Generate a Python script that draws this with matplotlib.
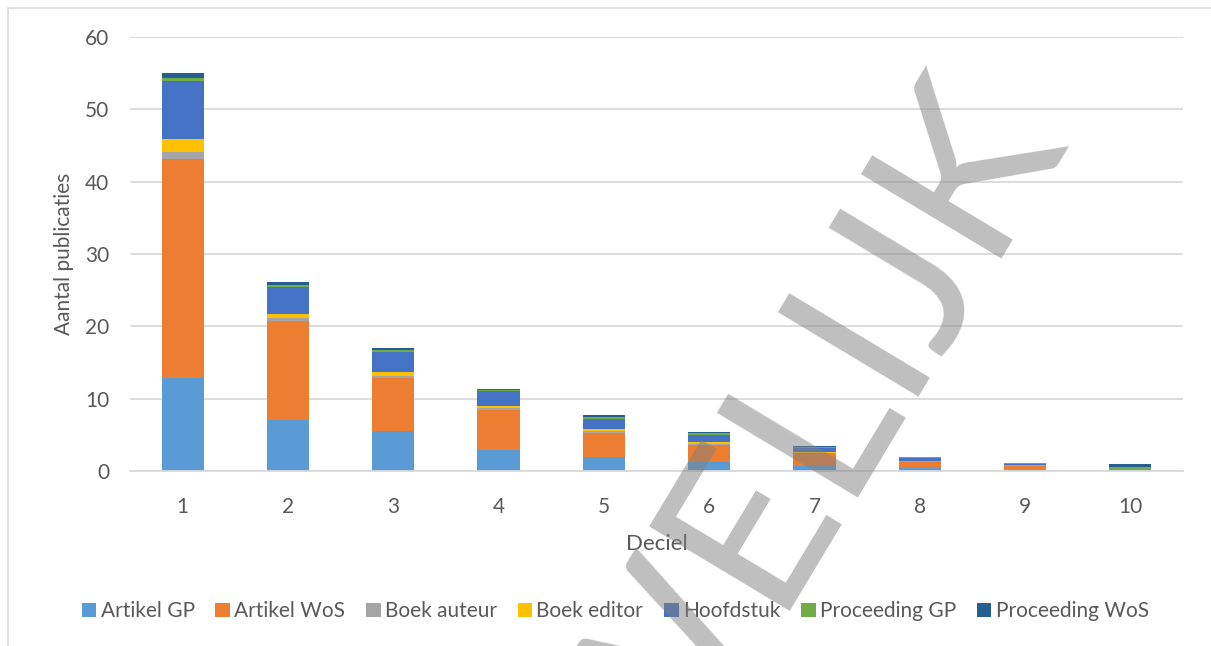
import matplotlib.pyplot as plt
from matplotlib.patches import Rectangle

decielen = [1, 2, 3, 4, 5, 6, 7, 8, 9, 10]

artikel_gp = [12.8, 7.1, 5.5, 2.9, 2.0, 1.25, 0.75, 0.4, 0.2, 0.1]
artikel_wos = [30.4, 13.6, 7.4, 5.6, 3.3, 2.4, 1.75, 0.9, 0.45, 0.05]
boek_auteur = [0.9, 0.4, 0.3, 0.25, 0.2, 0.1, 0.05, 0.05, 0.15, 0.0]
boek_editor = [1.8, 0.6, 0.5, 0.3, 0.25, 0.2, 0.1, 0.1, 0.05, 0.0]
hoofdstuk = [8.0, 3.7, 2.75, 1.95, 1.5, 1.0, 0.5, 0.35, 0.05, 0.0]
proceeding_gp = [0.5, 0.3, 0.25, 0.2, 0.2, 0.25, 0.2, 0.1, 0.15, 0.45]
proceeding_wos = [0.6, 0.4, 0.3, 0.15, 0.3, 0.2, 0.1, 0.1, 0.0, 0.4]

series = [
    ("Artikel GP", artikel_gp, "#5B9BD5"),
    ("Artikel WoS", artikel_wos, "#ED7D31"),
    ("Boek auteur", boek_auteur, "#A5A5A5"),
    ("Boek editor", boek_editor, "#FFC000"),
    ("Hoofdstuk", hoofdstuk, "#4472C4"),
    ("Proceeding GP", proceeding_gp, "#70AD47"),
    ("Proceeding WoS", proceeding_wos, "#255E91"),
]

plt.rcParams["font.family"] = ["Lato", "DejaVu Sans"]
tekst_kleur = "#595959"

fig = plt.figure(figsize=(12.11, 6.46), dpi=100)
ax = fig.add_axes([0.1073, 0.2709, 0.8696, 0.6718])

bottom = [0.0] * len(decielen)
for naam, waarden, kleur in series:
    ax.bar(decielen, waarden, width=0.4, bottom=bottom, color=kleur,
           label=naam, zorder=2, linewidth=0)
    bottom = [b + w for b, w in zip(bottom, waarden)]

ax.set_xlim(0.5, 10.5)
ax.set_ylim(0, 60)
ax.set_yticks(range(0, 61, 10))
ax.set_xticks(decielen)
ax.grid(axis="y", color="#d9d9d9", linewidth=1.3, zorder=0)
for s in ["top", "right", "left"]:
    ax.spines[s].set_visible(False)
ax.spines["bottom"].set_color("#d9d9d9")
ax.spines["bottom"].set_linewidth(1.3)
ax.tick_params(length=0, labelsize=15, labelcolor=tekst_kleur)
ax.tick_params(axis="y", pad=15)
ax.tick_params(axis="x", pad=19)

ax.set_xlabel("Deciel", fontsize=16, color=tekst_kleur, labelpad=12)
ax.set_ylabel("Aantal publicaties", fontsize=15, color=tekst_kleur, labelpad=8)

fig.legend(loc="center", bbox_to_anchor=(0.508, 0.054), ncol=7, frameon=False,
           fontsize=15, labelcolor=tekst_kleur, handlelength=0.7,
           handleheight=0.7, handletextpad=0.2, columnspacing=1.0)

# kader rond de grafiek
fig.patches.append(Rectangle((8 / 1211, -0.1), 1.2, 1 - 8 / 646 + 0.1,
                             transform=fig.transFigure, fill=False,
                             edgecolor="#d9d9d9", linewidth=1.2))

# watermerk
fig.text(1070 / 1211, 1 - 145 / 646, "VERTROUWELIJK", fontsize=165,
         fontweight="normal", color="grey", alpha=0.5, rotation=59,
         rotation_mode="anchor", ha="right", va="baseline", zorder=10)

fig.savefig("out.png", dpi=100)
